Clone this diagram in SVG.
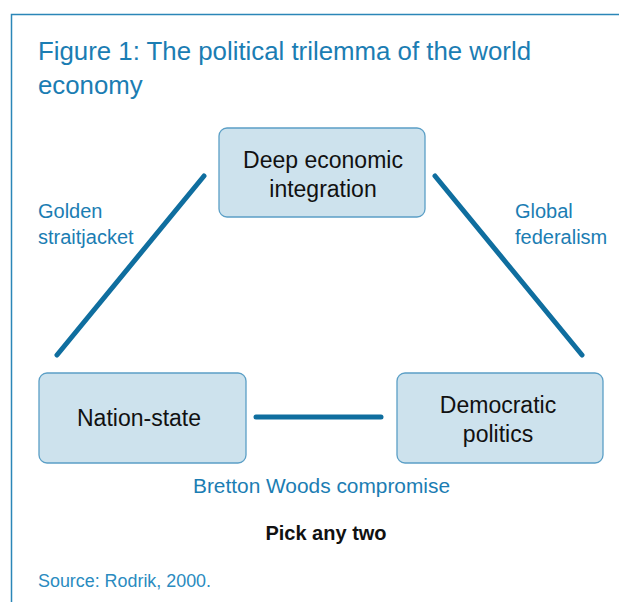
<svg xmlns="http://www.w3.org/2000/svg" width="619" height="602" viewBox="0 0 619 602">
  <style>
    .frame { fill: none; stroke: #2b86b8; stroke-width: 1.5; }
    .title { font-family: "Liberation Sans", Arial, sans-serif; font-size: 25.8px; fill: #1b7db3; }
    .box { fill: #cde2ed; stroke: #5b9fc6; stroke-width: 1.3; }
    .node-text { font-family: "Liberation Sans", Arial, sans-serif; font-size: 23px; fill: #111; text-anchor: middle; }
    .edge { stroke: #0f6e9f; stroke-width: 5; stroke-linecap: round; fill: none; }
    .edge-label { font-family: "Liberation Sans", Arial, sans-serif; font-size: 20px; fill: #1b7db3; }
    .note { font-family: "Liberation Sans", Arial, sans-serif; font-size: 20px; font-weight: bold; fill: #111; text-anchor: middle; }
    .source { font-family: "Liberation Sans", Arial, sans-serif; font-size: 17.5px; fill: #2a8bc0; }
  </style>
  <rect width="619" height="602" fill="#ffffff"/>
  <!-- outer frame: top and left rules -->
  <path class="frame" d="M11.5 602 V14.5 H619"/>

  <text class="title" x="38" y="60" textLength="493" lengthAdjust="spacingAndGlyphs">Figure 1: The political trilemma of the world</text>
  <text class="title" x="38" y="94">economy</text>

  <g id="connectors">
    <line class="edge" x1="57" y1="355" x2="204" y2="176"/>
    <line class="edge" x1="435" y1="176" x2="582" y2="355"/>
    <line class="edge" x1="256" y1="417" x2="381" y2="417"/>
    <text class="edge-label" x="38" y="218">Golden</text>
    <text class="edge-label" x="38" y="244">straitjacket</text>
    <text class="edge-label" x="515" y="218">Global</text>
    <text class="edge-label" x="515" y="244">federalism</text>
    <text class="edge-label" x="321.5" y="493" text-anchor="middle" textLength="257" lengthAdjust="spacingAndGlyphs">Bretton Woods compromise</text>
  </g>

  <g id="node-integration">
    <rect class="box" x="219" y="128" width="206" height="89" rx="8"/>
    <text class="node-text" x="323" y="168">Deep economic</text>
    <text class="node-text" x="323" y="197">integration</text>
  </g>
  <g id="node-nation-state">
    <rect class="box" x="39" y="373" width="207" height="90" rx="8"/>
    <text class="node-text" x="139" y="426">Nation-state</text>
  </g>
  <g id="node-democratic">
    <rect class="box" x="397" y="373" width="206" height="90" rx="8"/>
    <text class="node-text" x="498" y="413">Democratic</text>
    <text class="node-text" x="498" y="442">politics</text>
  </g>

  <text class="note" x="326" y="540">Pick any two</text>
  <text class="source" x="38" y="587" textLength="173" lengthAdjust="spacingAndGlyphs">Source: Rodrik, 2000.</text>
</svg>
